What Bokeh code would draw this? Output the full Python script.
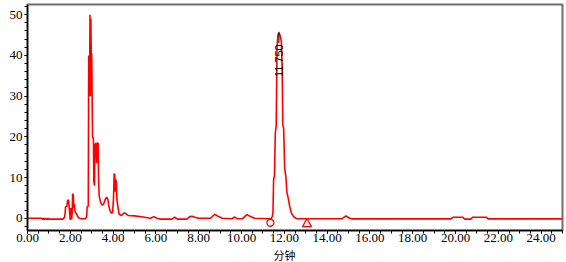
from bokeh.plotting import figure
from bokeh.models import Range1d, Title, NumeralTickFormatter, FixedTicker
from bokeh.core.properties import value
from bokeh.embed import file_html
from bokeh.resources import INLINE

# chromatogram trace (minutes, signal)
times = [0.00, 0.68, 0.72, 0.76, 0.80, 0.84, 0.92, 0.96, 1.00, 1.05, 1.65, 1.74, 1.78, 1.84, 1.88,
         1.92, 1.96, 2.00, 2.03, 2.06, 2.09, 2.11, 2.14, 2.16, 2.19, 2.22, 2.28, 2.36, 2.45, 2.70,
         2.76, 2.79, 2.84, 2.86, 2.88, 2.90, 2.92, 2.94, 2.96, 2.98, 3.00, 3.02, 3.04, 3.08, 3.10,
         3.13, 3.15, 3.20, 3.23, 3.26, 3.30, 3.32, 3.35, 3.42, 3.50, 3.56, 3.62, 3.70, 3.76, 3.80,
         3.86, 3.93, 3.98, 4.02, 4.05, 4.08, 4.10, 4.12, 4.15, 4.18, 4.22, 4.28, 4.40, 4.50, 4.58,
         4.70, 5.00, 5.40, 5.75, 5.90, 6.05, 6.20, 6.75, 6.88, 7.00, 7.45, 7.58, 7.70, 7.85, 8.00,
         8.55, 8.75, 8.90, 9.10, 9.55, 9.68, 9.80, 10.05, 10.25, 10.40, 10.60, 11.38, 11.44, 11.47,
         11.50, 11.54, 11.58, 11.62, 11.66, 11.70, 11.74, 11.80, 11.86, 11.90, 11.93, 11.97, 12.02,
         12.07, 12.12, 12.18, 12.25, 12.33, 12.45, 12.58, 14.70, 14.88, 15.05, 15.20, 19.80, 19.88,
         20.35, 20.42, 20.72, 20.80, 21.45, 21.52, 25.00]
signal = [0.0, 0.0, -0.3, 0.0, -0.3, 0.0, -0.3, 0.0, -0.2, -0.2, -0.2, 0.3, 2.8, 3.0, 4.5,
          4.4, 2.0, -0.4, 2.5, -0.3, 1.5, 6.0, 5.8, 2.5, 3.5, 1.6, 1.2, 0.3, -0.1, -0.1,
          0.3, 2.8, 3.0, 40.0, 39.5, 30.0, 50.0, 30.0, 49.0, 40.0, 40.5, 30.0, 20.0, 19.5, 9.0,
          8.0, 18.0, 18.5, 13.5, 18.5, 18.5, 10.0, 5.5, 3.8, 3.2, 3.5, 4.5, 5.2, 4.6, 3.0,
          1.8, 1.2, 1.6, 5.0, 11.0, 10.5, 6.5, 9.5, 9.0, 4.5, 3.0, 1.0, 0.7, 1.3, 1.2,
          0.7, 0.6, 0.3, 0.0, 0.4, 0.0, -0.2, -0.2, 0.3, -0.2, -0.2, 0.4, 0.5, 0.2, 0.0,
          0.0, 1.0, 0.5, 0.0, -0.1, 0.3, -0.1, -0.1, 0.9, 0.5, 0.0, -0.1, 0.4, 1.5,
          9.5, 10.5, 21.0, 22.5, 42.0, 45.0, 45.5, 45.0, 43.5, 37.0, 23.0, 22.0, 12.0,
          10.5, 6.5, 5.0, 3.0, 1.3, 0.3, -0.1, -0.1, 0.6, 0.0, -0.15, -0.15, 0.25,
          0.25, -0.2, -0.2, 0.25, 0.25, -0.15, -0.15]

# integration baseline markers
bl_start_t = [11.35]
bl_start_v = [-1.1]
bl_end_t = [13.06]
bl_end_v = [-1.4]

# peak annotation
peak_rt = [11.75]
peak_top = [45.8]
peak_label = ["11.750"]
peak_label_y = [38.7]

x_ticks = [0, 2, 4, 6, 8, 10, 12, 14, 16, 18, 20, 22, 24]
y_ticks = [0, 10, 20, 30, 40, 50]
x_label = "分钟"

p = figure(width=566, height=262, output_backend="svg", toolbar_location=None,
           x_range=Range1d(0.0, 25.0), y_range=Range1d(-3.0, 52.5),
           min_border_left=27, min_border_right=4, min_border_top=4, min_border_bottom=31)
p.background_fill_color = "white"
p.border_fill_color = "white"
p.xgrid.visible = False
p.ygrid.visible = False
p.outline_line_color = "#6e6e6e"
p.outline_line_width = 2

p.line(times, signal, line_color="#ff0000", line_width=1.6)

p.scatter(bl_start_t, bl_start_v, marker="circle", size=7, fill_color="white",
          line_color="#ff0000", line_width=1.3)
p.scatter(bl_end_t, bl_end_v, marker="triangle", size=9, fill_color="white",
          line_color="#ff0000", line_width=1.3)

p.segment(x0=peak_rt, y0=[v + 4.3 for v in peak_label_y], x1=peak_rt, y1=peak_top,
          line_color="black", line_width=1)
p.text(x=peak_rt, y=peak_label_y, text=peak_label, angle=1.5708,
       text_align="center", text_baseline="middle",
       text_font=value("Liberation Sans"), text_font_size="11px", text_color="black")

xa = p.xaxis[0]
xa.ticker = FixedTicker(ticks=x_ticks, minor_ticks=[i * 0.5 for i in range(0, 51)])
xa.formatter = NumeralTickFormatter(format="0.00")
ya = p.yaxis[0]
ya.ticker = FixedTicker(ticks=y_ticks, minor_ticks=list(range(-2, 53, 2)))

for ax in (xa, ya):
    ax.axis_line_color = "black"
    ax.axis_line_width = 1.5
    ax.major_tick_line_color = "black"
    ax.minor_tick_line_color = "black"
    ax.major_tick_in = 0
    ax.minor_tick_in = 0
    ax.major_tick_out = 3
    ax.minor_tick_out = 3
    ax.major_label_text_font = "Liberation Serif"
    ax.major_label_text_font_size = "13px"
    ax.major_label_text_color = "black"
xa.major_label_standoff = 0
ya.major_label_standoff = 2

p.add_layout(Title(text=x_label, align="left", offset=246, standoff=0,
                   text_font="Noto Sans CJK SC", text_font_size="11px",
                   text_font_style="normal", text_color="black"), "below")

open("out.html", "w").write(file_html(p, INLINE))
